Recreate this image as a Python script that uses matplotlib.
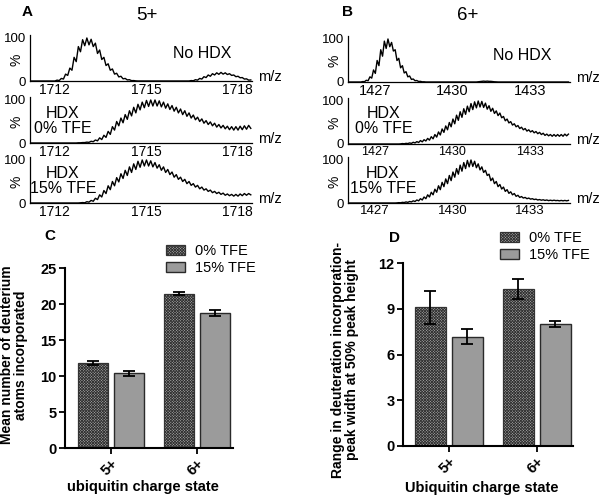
import numpy as np
import matplotlib
matplotlib.use('Agg')
import matplotlib.pyplot as plt

plt.rcParams['font.family'] = ['Liberation Sans', 'DejaVu Sans']
plt.rcParams['hatch.linewidth'] = 0.6

W, H = 600, 497

# mass spectra: intensity (%) sampled every 0.07 m/z from the start value
mz_step = 0.07
mz0_5 = 1711.23
mz0_6 = 1425.96

int5_nohdx = ([0] * 11 +
              [0, 2, 1, 6, 4.5, 16, 13, 30, 25, 55, 45, 80, 68, 96, 82, 100, 84, 97, 80, 88,
               64, 72, 50, 55, 36, 40, 25, 28, 16, 18, 9.5, 11, 5, 6, 2.5, 3, 0.8, 1, 0.3] +
              [0] * 24 +
              [0, 1, 0.5, 3, 2, 6, 4.5, 10, 8, 14, 11, 17, 14, 19, 15.5, 20, 16, 19, 15, 17,
               13, 14, 10, 11, 7.5, 8, 4.5, 5, 2, 2.5])
int5_tfe0 = ([0] * 22 +
             [0.5, 0.5, 1, 1, 2, 1.5, 4, 3, 7, 5, 12, 8, 18, 13, 27, 20, 38, 30, 50, 40,
              58, 47, 66, 55, 75, 63, 83, 70, 90, 77, 95, 82, 99, 85, 100, 86, 100, 86, 98, 84,
              95, 81, 91, 78, 87, 74, 83, 70, 79, 66, 75, 62, 70, 58, 65, 54, 60, 50, 56, 46,
              52, 43, 49, 40, 46, 37, 43, 35, 41, 33, 39, 31, 38, 30, 38, 30, 39, 31, 40, 32,
              41, 34])
int5_tfe15 = ([0] * 23 +
              [0.5, 1, 0.5, 3, 2, 6, 4, 11, 8, 19, 14, 29, 22, 40, 31, 50, 40, 59, 49, 68,
               57, 76, 64, 84, 71, 91, 78, 97, 83, 100, 86, 100, 86, 98, 84, 94, 81, 89, 76, 84,
               71, 78, 66, 72, 60, 66, 55, 60, 50, 55, 45, 50, 41, 45, 37, 41, 33, 37, 30, 33,
               27, 30, 24, 27, 22, 25, 20, 23, 18, 21, 17, 20, 16, 20, 16, 21, 17, 22, 18, 22,
               19])

int6_nohdx = ([0] * 8 +
              [1, 0.8, 4, 3, 12, 9, 28, 20, 50, 38, 75, 60, 95, 78, 100, 82, 92, 72, 75, 50,
               55, 33, 38, 21, 24, 12, 14, 6, 7, 3, 3.5, 1.2, 1.5, 0.4, 0.5] +
              [0] * 29 +
              [0.5, 1, 1.5, 2, 1.5, 2, 1.5, 1.5, 1, 0.5, 0.3] +
              [0] * 40)
int6_tfe0 = ([0] * 29 +
             [0.3, 1, 0.5, 1.5, 1, 2.5, 1.5, 4, 2.5, 5.5, 3.5, 8, 5, 10, 7, 13, 9, 17, 12, 22,
              16, 28, 21, 35, 27, 42, 33, 50, 40, 58, 47, 67, 55, 75, 62, 82, 69, 88, 75, 94,
              80, 98, 84, 100, 86, 99, 85, 95, 81, 89, 76, 83, 71, 77, 66, 72, 61, 64, 54, 58,
              49, 52, 44, 47, 40, 43, 36, 39, 33, 36, 30, 33, 28, 31, 26, 29, 24, 27, 22, 25,
              20, 23, 19, 22, 18, 22, 18, 22, 18, 22, 18, 23, 19, 23])
int6_tfe15 = ([0] * 27 +
              [0.3, 0.8, 0.5, 1.5, 1, 2.5, 1.5, 3.5, 2.5, 5, 3.5, 7, 5, 10, 7, 14, 10, 19, 14, 25,
               19, 32, 25, 40, 31, 48, 38, 56, 45, 64, 52, 72, 60, 80, 67, 88, 74, 94, 80, 99,
               84, 100, 85, 97, 82, 91, 77, 84, 71, 76, 64, 67, 52, 58, 45, 50, 38, 43, 32.5, 37,
               27, 31, 22.5, 26, 19, 22, 15.5, 18, 13, 15, 11.5, 13, 10, 11.5, 9, 10, 8, 9, 7, 8,
               6.5, 7.5, 6, 7, 5.5, 6.5, 5.5, 6.5, 5.5, 6, 5, 6, 5, 6, 5, 6])

xticks5 = [1712, 1715, 1718]
xticks6 = [1427, 1430, 1433]

# bar charts
charge_states = ['5+', '6+']
tfe_labels = ['0% TFE', '15% TFE']
mean_d = [[11.8, 21.45], [10.35, 18.75]]
mean_d_err = [[0.25, 0.25], [0.35, 0.45]]
width_d = [[9.1, 10.33], [7.17, 8.0]]
width_d_err = [[1.1, 0.67], [0.5, 0.2]]


def px(x, y):
    return x / W, 1 - y / H


fig = plt.figure(figsize=(6, 4.97), dpi=100)


def spectrum(left, base, mz0, vals, xlim, xticks, label, lx, ly, tsize=10):
    l, b = px(left, base)
    ax = fig.add_axes([l, b, 222 / W, 45.6 / H])
    mz = mz0 + mz_step * np.arange(len(vals))
    ax.plot(mz, vals, color='black', lw=1.0)
    ax.set_xlim(xlim)
    ax.set_ylim(0, 106)
    for s in ['top', 'right']:
        ax.spines[s].set_visible(False)
    for s in ['left', 'bottom']:
        ax.spines[s].set_linewidth(0.9)
    ax.set_yticks([0, 100])
    ax.set_xticks(xticks)
    ax.tick_params(length=0, labelsize=tsize)
    ax.tick_params(axis='y', pad=3, labelsize=9.5)
    ax.tick_params(axis='x', pad=1.5)
    ax.text(-0.063, 0.47, '%', transform=ax.transAxes, rotation=90,
            ha='center', va='center', fontsize=10)
    ax.text(1.027, 0.09, 'm/z', transform=ax.transAxes, ha='left', va='center', fontsize=10.5)
    fx, fy = px(lx, ly)
    fig.text(fx, fy, label, ha='center', va='center', fontsize=11.5, linespacing=1.05)
    return ax


spectrum(30, 81, mz0_5, int5_nohdx, (1711.18, 1718.48), xticks5, 'No HDX', 202, 54)
spectrum(30, 143, mz0_5, int5_tfe0, (1711.18, 1718.48), xticks5, 'HDX\n0% TFE', 63, 121)
spectrum(30, 203, mz0_5, int5_tfe15, (1711.18, 1718.48), xticks5, 'HDX\n15% TFE', 63, 181)
spectrum(348, 82, mz0_6, int6_nohdx, (1425.95, 1434.56), xticks6, 'No HDX', 522, 55, 10.5)
spectrum(348, 144, mz0_6, int6_tfe0, (1425.95, 1434.56), xticks6, 'HDX\n0% TFE', 384, 121, 9)
spectrum(348, 203, mz0_6, int6_tfe15, (1425.95, 1434.56), xticks6, 'HDX\n15% TFE', 383, 181, 9.5)

fig.text(*px(147, 15), '5+', ha='center', va='center', fontsize=13.5)
fig.text(*px(468, 15), '6+', ha='center', va='center', fontsize=13.5)
for letter, x, y in [('A', 27.5, 12.5), ('B', 347.5, 12.5), ('C', 50, 236), ('D', 394.5, 238)]:
    fig.text(*px(x, y), letter, ha='center', va='center', fontsize=11, fontweight='bold')


def bar_panel(rect, vals, errs, ylim, yticks, xlim, ylabel, ylab_xy, lsp, xlabel, xlab_y, leg_xy):
    ax = fig.add_axes(rect)
    x = np.arange(len(charge_states))
    ekw = dict(elinewidth=1.3, capthick=1.3, ecolor='black')
    b0 = ax.bar(x - 0.21, vals[0], 0.35, yerr=errs[0], color='#a8a8a8', edgecolor='#333333',
                hatch='x' * 12, lw=0.9, capsize=4.5, error_kw=ekw, label=tfe_labels[0])
    b1 = ax.bar(x + 0.21, vals[1], 0.35, yerr=errs[1], color='#9b9b9b', edgecolor='#2a2a2a',
                lw=1.0, capsize=4.5, error_kw=ekw, label=tfe_labels[1])
    ax.set_ylim(ylim)
    ax.set_xlim(xlim)
    ax.set_yticks(yticks)
    ax.set_xticks(x)
    ax.set_xticklabels(charge_states, rotation=45, ha='right', rotation_mode='anchor')
    for s in ['top', 'right']:
        ax.spines[s].set_visible(False)
    for s in ['left', 'bottom']:
        ax.spines[s].set_linewidth(1.5)
    ax.tick_params(length=4, width=1.3, labelsize=10.5, pad=2)
    for t in ax.get_xticklabels() + ax.get_yticklabels():
        t.set_fontweight('bold')
    fig.text(*px(*ylab_xy), ylabel, rotation=90, ha='center', va='center',
             fontsize=10, fontweight='bold', linespacing=lsp, multialignment='center')
    fig.text(rect[0] + rect[2] / 2 - 0.01, 1 - xlab_y / H, xlabel, ha='center', va='center',
             fontsize=10.5, fontweight='bold')
    fig.legend(handles=[b0, b1], loc='upper left', bbox_to_anchor=px(*leg_xy),
               frameon=False, fontsize=10.5, borderpad=0, borderaxespad=0,
               handlelength=1.3, handleheight=0.65, handletextpad=0.7, labelspacing=0.2)
    return ax


bar_panel([65 / W, 1 - 448 / H, 168 / W, 180 / H], mean_d, mean_d_err, (0, 25),
          [0, 5, 10, 15, 20, 25], (-0.535, 1.42),
          'Mean number of deuterium\natoms incorporated', (14, 355), 1.0,
          'ubiquitin charge state', 487, (166, 244))
bar_panel([403 / W, 1 - 445.7 / H, 170 / W, 182.4 / H], width_d, width_d_err, (0, 12),
          [0, 3, 6, 9, 12], (-0.52, 1.41),
          'Range in deuteration incorporation-\npeak width at 50% peak height', (345, 360), 1.05,
          'Ubiquitin charge state', 488, (500, 231))

fig.savefig('out.png', dpi=100)
